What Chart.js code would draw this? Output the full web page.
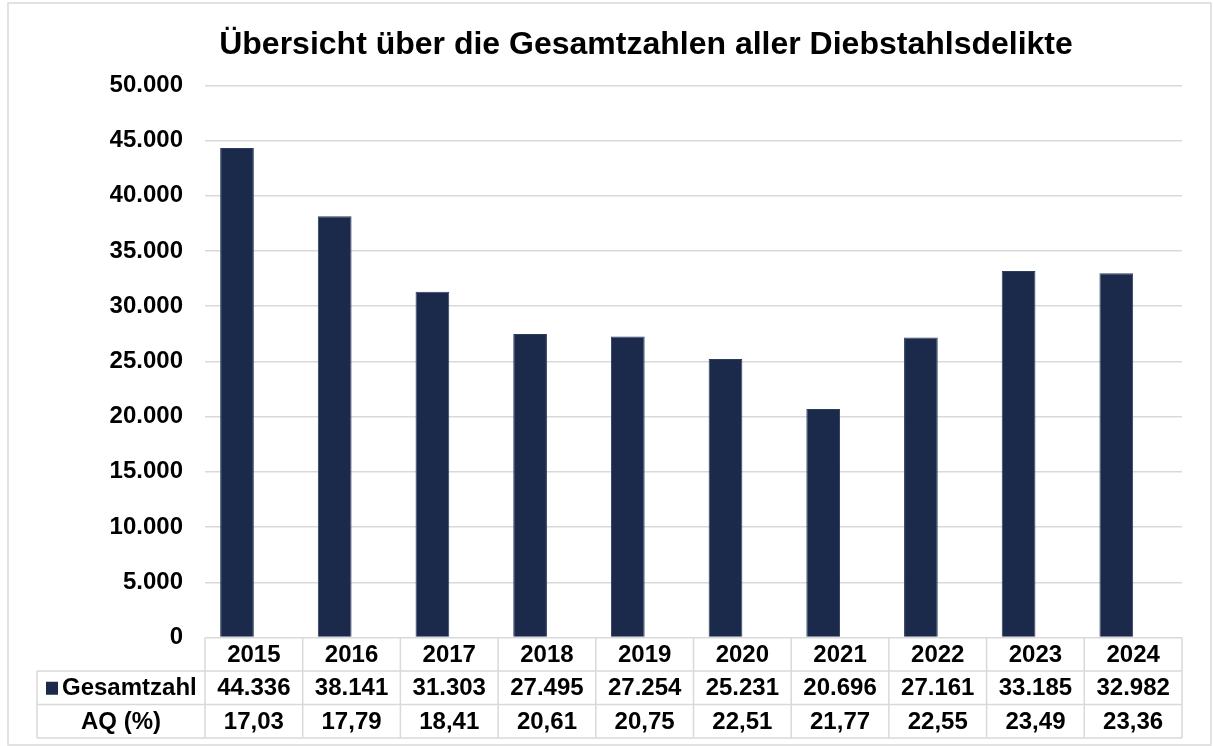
<!DOCTYPE html>
<html>
<head>
<meta charset="utf-8">
<script src="https://cdn.jsdelivr.net/npm/chart.js@4"></script>
<style>
  html, body { margin: 0; padding: 0; background: #fff; }
  #wrap { width: 1213px; height: 746px; }
</style>
</head>
<body>
<div id="wrap"><canvas id="chart" width="1213" height="746"></canvas></div>
<script>
const years = ['2015', '2016', '2017', '2018', '2019', '2020', '2021', '2022', '2023', '2024'];
const gesamtzahl = [44336, 38141, 31303, 27495, 27254, 25231, 20696, 27161, 33185, 32982];
const aq = [17.03, 17.79, 18.41, 20.61, 20.75, 22.51, 21.77, 22.55, 23.49, 23.36];

const navy = '#1b2a4b';
const gridGrey = '#d9d9d9';
const font = 'Liberation Sans, Arial, sans-serif';

function dePunkt(n) {
    return String(n).replace(/\B(?=(\d{3})+(?!\d))/g, '.');
}

// draws the two data-table rows under the x axis plus the frame
const tablePlugin = {
    id: 'dataTable',
    afterDraw(chart) {
        const ctx = chart.ctx;
        const x = chart.scales.x;
        const top = chart.chartArea.bottom;
        const rowH = 33.5;
        const labelLeft = 37;
        const colW = (x.right - x.left) / years.length;

        ctx.save();
        // outer frame
        ctx.strokeStyle = gridGrey;
        ctx.lineWidth = 1.5;
        ctx.strokeRect(8, 3, 1203, 742);

        // table lines
        ctx.beginPath();
        for (let r = 1; r <= 3; r++) {
            ctx.moveTo(labelLeft, top + r * rowH);
            ctx.lineTo(x.right, top + r * rowH);
        }
        ctx.moveTo(labelLeft, top + rowH);
        ctx.lineTo(labelLeft, top + 3 * rowH);
        for (let i = 0; i <= years.length; i++) {
            const px = x.left + i * colW;
            ctx.moveTo(px, top);
            ctx.lineTo(px, top + 3 * rowH);
        }
        ctx.stroke();

        // row texts
        ctx.fillStyle = '#000';
        ctx.font = 'bold 24px ' + font;
        ctx.textAlign = 'center';
        ctx.textBaseline = 'middle';
        const y1 = top + 1.5 * rowH;
        const y2 = top + 2.5 * rowH;
        years.forEach((yr, i) => {
            const cx = x.getPixelForValue(i);
            ctx.fillText(dePunkt(gesamtzahl[i]), cx, y1 + 1);
            ctx.fillText(aq[i].toFixed(2).replace('.', ','), cx, y2 + 1);
        });

        // row labels
        ctx.fillStyle = navy;
        ctx.fillRect(46, y1 - 6, 12, 13);
        ctx.fillStyle = '#000';
        ctx.textAlign = 'left';
        ctx.fillText('Gesamtzahl', 62, y1 + 1);
        ctx.textAlign = 'center';
        ctx.fillText('AQ (%)', (labelLeft + x.left) / 2, y2 + 1);
        ctx.restore();
    }
};

new Chart(document.getElementById('chart').getContext('2d'), {
    type: 'bar',
    data: {
        labels: years,
        datasets: [{
            label: 'Gesamtzahl',
            data: gesamtzahl,
            backgroundColor: navy,
            borderColor: '#2c3e60',
            borderWidth: { top: 1, left: 1, right: 1, bottom: 0 },
            barPercentage: 1.0,
            categoryPercentage: 0.69
        }, {
            label: 'AQ (%)',
            data: aq,
            backgroundColor: 'rgba(0,0,0,0)',
            barPercentage: 1.0,
            categoryPercentage: 0.69
        }]
    },
    options: {
        responsive: false,
        animation: false,
        layout: { padding: { left: 110, right: 31, top: 0, bottom: 75 } },
        plugins: {
            legend: { display: false },
            tooltip: { enabled: false },
            title: {
                display: true,
                text: 'Übersicht über die Gesamtzahlen aller Diebstahlsdelikte',
                color: '#000',
                font: { family: font, size: 32, weight: 'bold' },
                padding: { top: 26, bottom: 21 }
            }
        },
        scales: {
            x: {
                grid: { display: false, drawTicks: false, tickLength: 0 },
                border: { display: false },
                ticks: { color: '#000', font: { family: font, size: 24, weight: 'bold' }, padding: 3 },
                afterFit(scale) { scale.height = 33.5; }
            },
            y: {
                min: 0,
                max: 50000,
                border: { display: false },
                grid: { color: gridGrey, lineWidth: 1.5, drawTicks: false },
                ticks: {
                    stepSize: 5000,
                    color: '#000',
                    padding: 22,
                    font: { family: font, size: 24, weight: 'bold' },
                    callback: v => dePunkt(v)
                },
                afterFit(scale) { scale.width = 95; }
            }
        }
    },
    plugins: [tablePlugin]
});
</script>
</body>
</html>
